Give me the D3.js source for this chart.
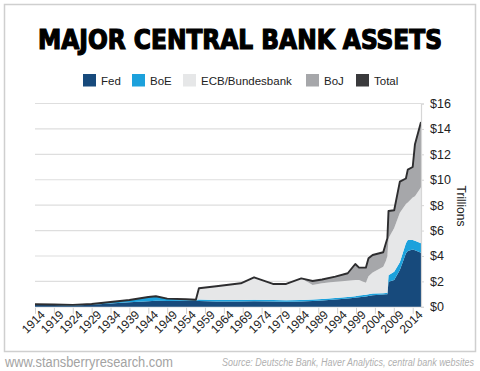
<!DOCTYPE html>
<html>
<head>
<meta charset="utf-8">
<script src="https://cdn.jsdelivr.net/npm/d3@7"></script>
<style>
  body { margin: 0; background: #fff; }
  svg { display: block; font-family: "Liberation Sans", Arial, sans-serif; }
</style>
</head>
<body>
<div id="chart"></div>
<script>
// values, in trillions of dollars
var years = [1914, 1919, 1924, 1929, 1934, 1939, 1944, 1946, 1949, 1954, 1956.6, 1957.4, 1962, 1968.5, 1972, 1977, 1980.5, 1984.5, 1987.5, 1990, 1993.5, 1996.8, 1998.8, 1999.8, 2001.6, 2002.3, 2003.4, 2006.2, 2006.9, 2007.3, 2007.6, 2009.1, 2010.6, 2012.2, 2012.7, 2014, 2014.6, 2016.2];
var fed = [0.15, 0.14, 0.11, 0.16, 0.26, 0.36, 0.44, 0.47, 0.46, 0.48, 0.49, 0.46, 0.42, 0.42, 0.43, 0.42, 0.40, 0.42, 0.45, 0.50, 0.58, 0.66, 0.72, 0.76, 0.82, 0.85, 0.90, 0.96, 0.98, 0.98, 1.98, 2.10, 2.90, 4.20, 4.40, 4.50, 4.45, 4.25];
var boe = [0.05, 0.04, 0.04, 0.06, 0.12, 0.18, 0.33, 0.36, 0.18, 0.11, 0.07, 0.12, 0.12, 0.12, 0.12, 0.12, 0.12, 0.12, 0.12, 0.12, 0.12, 0.12, 0.12, 0.13, 0.13, 0.14, 0.14, 0.10, 0.10, 0.10, 0.50, 0.66, 0.60, 0.80, 0.85, 0.75, 0.75, 0.75];
var ecb = [0, 0, 0, 0, 0, 0, 0, 0, 0, 0, 0, 0.88, 1.08, 1.31, 1.77, 1.26, 1.28, 1.70, 1.15, 1.23, 1.28, 1.27, 1.26, 1.22, 0.95, 1.41, 1.66, 2.10, 2.52, 2.92, 2.92, 3.44, 3.90, 3.10, 2.95, 3.35, 3.50, 4.40];
var boj = [0, 0, 0, 0, 0, 0, 0, 0, 0, 0, 0, 0, 0, 0, 0, 0, 0, 0, 0.31, 0.30, 0.39, 0.59, 1.27, 0.97, 1.18, 1.42, 1.38, 1.13, 1.40, 1.39, 2.14, 1.40, 2.45, 2.00, 2.60, 2.40, 4.10, 5.15];
var total = [0.20, 0.18, 0.15, 0.22, 0.38, 0.54, 0.77, 0.83, 0.64, 0.59, 0.56, 1.46, 1.62, 1.85, 2.32, 1.80, 1.80, 2.24, 2.03, 2.15, 2.37, 2.64, 3.37, 3.08, 3.08, 3.82, 4.08, 4.29, 5.00, 5.39, 7.54, 7.60, 9.85, 10.10, 10.80, 11.00, 12.80, 14.55];

var seriesNames = ["Fed", "BoE", "ECB/Bundesbank", "BoJ", "Total"];
var seriesColors = ["#174a7c", "#1ca1dc", "#e6e7e8", "#a6a7aa", "#3a3a3c"];
var tickYears = d3.range(1914, 2015, 5);
var yTicks = [0, 2, 4, 6, 8, 10, 12, 14, 16];

(function() {
  var W = 480, H = 371;
  // plot box (window.top is reserved, so no "top" here)
  var plotLeft = 35, plotRight = 421, plotTop = 103.5, plotBottom = 306.8;

  var svg = d3.select("#chart").append("svg")
    .attr("width", W).attr("height", H);

  // outer frame
  svg.append("rect")
    .attr("x", 4.5).attr("y", 4.5).attr("width", 471).attr("height", 347)
    .attr("fill", "none").attr("stroke", "#cfcfcf").attr("stroke-width", 1.5);

  // title
  svg.append("text")
    .attr("x", 240).attr("y", 48.5)
    .attr("text-anchor", "middle")
    .attr("textLength", 404).attr("lengthAdjust", "spacingAndGlyphs")
    .style("font-family", "'DejaVu Sans Condensed', 'DejaVu Sans', sans-serif")
    .style("font-weight", "bold").style("font-size", "27px")
    .attr("fill", "#000").attr("stroke", "#000").attr("stroke-width", 1.2)
    .text("MAJOR CENTRAL BANK ASSETS");

  // legend
  var legendX = [83, 132, 183, 306, 356];
  var legend = svg.append("g");
  seriesNames.forEach(function(name, i) {
    legend.append("rect")
      .attr("x", legendX[i]).attr("y", 74).attr("width", 13).attr("height", 12.5)
      .attr("fill", seriesColors[i]);
    legend.append("text")
      .attr("x", legendX[i] + 18).attr("y", 84.5)
      .style("font-size", "11.5px").attr("fill", "#222")
      .text(name);
  });

  var x = d3.scaleLinear().domain([1914, 2016.2]).range([plotLeft, plotRight]);
  var y = d3.scaleLinear().domain([0, 16]).range([plotBottom, plotTop]);

  // gridlines
  svg.append("g").selectAll("line")
    .data(yTicks)
    .enter().append("line")
    .attr("x1", plotLeft).attr("x2", plotRight)
    .attr("y1", function(d) { return y(d); }).attr("y2", function(d) { return y(d); })
    .attr("stroke", "#dedede").attr("stroke-width", 1.2);

  // stacked areas
  var rows = years.map(function(yr, i) {
    return { year: yr, Fed: fed[i], BoE: boe[i], ECB: ecb[i], BoJ: boj[i] };
  });
  var layers = d3.stack().keys(["Fed", "BoE", "ECB", "BoJ"])(rows);

  var area = d3.area()
    .x(function(d) { return x(d.data.year); })
    .y0(function(d) { return y(d[0]); })
    .y1(function(d) { return y(d[1]); });

  svg.append("g").selectAll("path")
    .data(layers)
    .enter().append("path")
    .attr("d", area)
    .attr("fill", function(d, i) { return seriesColors[i]; });

  // total line
  var line = d3.line()
    .x(function(d, i) { return x(years[i]); })
    .y(function(d) { return y(d); });

  svg.append("path")
    .datum(total)
    .attr("d", line)
    .attr("fill", "none")
    .attr("stroke", "#2d2d2f")
    .attr("stroke-width", 1.9)
    .attr("stroke-linejoin", "round");

  // right y axis
  var gy = svg.append("g")
    .attr("transform", "translate(" + plotRight + ",0)")
    .call(d3.axisRight(y)
      .tickValues(yTicks)
      .tickSize(3)
      .tickPadding(6)
      .tickFormat(function(d) { return "$" + d; }));
  gy.select(".domain").attr("stroke", "#d6d6d6").attr("stroke-width", 1.2);
  gy.selectAll(".tick line").attr("stroke", "#d6d6d6");
  gy.selectAll(".tick text")
    .style("font-size", "12.5px").style("font-family", "'Liberation Sans', Arial, sans-serif")
    .attr("fill", "#222");

  svg.append("text")
    .attr("transform", "translate(457,206) rotate(90)")
    .attr("text-anchor", "middle")
    .style("font-size", "12px").attr("fill", "#222")
    .text("Trillions");

  // bottom x axis
  var gx = svg.append("g")
    .attr("transform", "translate(0," + (plotBottom + 1) + ")")
    .call(d3.axisBottom(x)
      .tickValues(tickYears)
      .tickSize(6)
      .tickFormat(d3.format("d")));
  gx.select(".domain").remove();
  gx.selectAll(".tick line").attr("stroke", "#d0d0d0");
  gx.selectAll(".tick text")
    .style("font-size", "12px").style("font-family", "'Liberation Sans', Arial, sans-serif")
    .attr("fill", "#222")
    .attr("text-anchor", "end")
    .attr("y", 6)
    .attr("dx", "0.15em").attr("dy", "0.55em")
    .attr("transform", "rotate(-45)");

  // footer
  svg.append("text")
    .attr("x", 5).attr("y", 367)
    .attr("textLength", 168).attr("lengthAdjust", "spacingAndGlyphs")
    .style("font-size", "14px").attr("fill", "#a3a3a3")
    .text("www.stansberryresearch.com");

  svg.append("text")
    .attr("x", 474).attr("y", 366)
    .attr("text-anchor", "end")
    .attr("textLength", 252).attr("lengthAdjust", "spacingAndGlyphs")
    .style("font-size", "10px").style("font-style", "italic").attr("fill", "#b0b0b0")
    .text("Source: Deutsche Bank, Haver Analytics, central bank websites");
})();
</script>
</body>
</html>
